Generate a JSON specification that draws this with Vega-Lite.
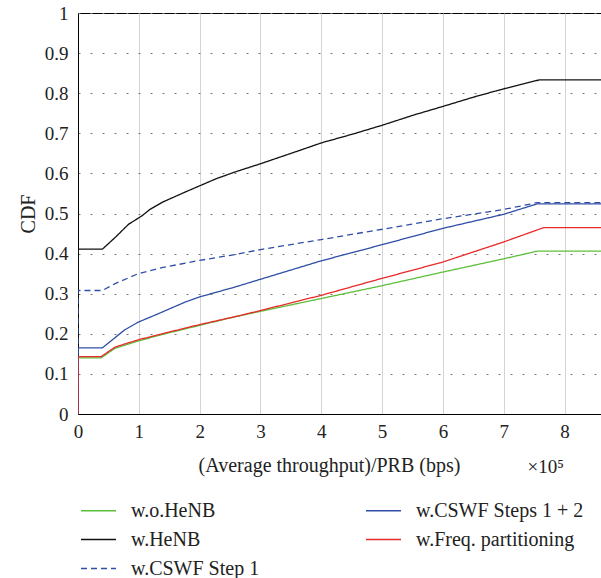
{
  "$schema": "https://vega.github.io/schema/vega-lite/v6.json",
  "autosize": {"type": "none"},
  "padding": {"left": 78, "top": 13, "right": 0, "bottom": 164},
  "width": 523,
  "height": 401,
  "config": {
    "view": {"stroke": "#000000", "strokeWidth": 1},
    "font": "Liberation Serif",
    "axis": {
      "labelFont": "Liberation Serif",
      "labelFontSize": 19,
      "labelColor": "#222222",
      "titleFont": "Liberation Serif",
      "titleFontSize": 20,
      "titleFontWeight": "normal",
      "titleColor": "#222222",
      "domainColor": "#000000",
      "tickColor": "#000000"
    },
    "legend": {
      "labelFont": "Liberation Serif",
      "labelFontSize": 20,
      "labelColor": "#222222",
      "labelLimit": 400
    }
  },
  "datasets": {
    "curves": [
      {"series": "w.o.HeNB", "i": 0, "x": 0, "y": 0},
      {"series": "w.o.HeNB", "i": 1, "x": 0, "y": 0.14},
      {"series": "w.o.HeNB", "i": 2, "x": 0.38, "y": 0.14},
      {"series": "w.o.HeNB", "i": 3, "x": 0.61, "y": 0.164},
      {"series": "w.o.HeNB", "i": 4, "x": 0.99, "y": 0.182},
      {"series": "w.o.HeNB", "i": 5, "x": 1.38, "y": 0.198},
      {"series": "w.o.HeNB", "i": 6, "x": 2.0, "y": 0.221},
      {"series": "w.o.HeNB", "i": 7, "x": 2.51, "y": 0.24},
      {"series": "w.o.HeNB", "i": 8, "x": 3.0, "y": 0.256},
      {"series": "w.o.HeNB", "i": 9, "x": 4.0, "y": 0.288},
      {"series": "w.o.HeNB", "i": 10, "x": 4.97, "y": 0.319},
      {"series": "w.o.HeNB", "i": 11, "x": 6.0, "y": 0.354},
      {"series": "w.o.HeNB", "i": 12, "x": 7.0, "y": 0.387},
      {"series": "w.o.HeNB", "i": 13, "x": 7.55, "y": 0.406},
      {"series": "w.o.HeNB", "i": 14, "x": 8.6, "y": 0.406},

      {"series": "w.HeNB", "i": 0, "x": 0, "y": 0},
      {"series": "w.HeNB", "i": 1, "x": 0, "y": 0.411},
      {"series": "w.HeNB", "i": 2, "x": 0.4, "y": 0.411},
      {"series": "w.HeNB", "i": 3, "x": 0.61, "y": 0.44},
      {"series": "w.HeNB", "i": 4, "x": 0.83, "y": 0.473},
      {"series": "w.HeNB", "i": 5, "x": 1.05, "y": 0.494},
      {"series": "w.HeNB", "i": 6, "x": 1.18, "y": 0.51},
      {"series": "w.HeNB", "i": 7, "x": 1.4, "y": 0.529},
      {"series": "w.HeNB", "i": 8, "x": 1.74, "y": 0.552},
      {"series": "w.HeNB", "i": 9, "x": 2.0, "y": 0.569},
      {"series": "w.HeNB", "i": 10, "x": 2.26, "y": 0.586},
      {"series": "w.HeNB", "i": 11, "x": 2.59, "y": 0.604},
      {"series": "w.HeNB", "i": 12, "x": 3.0, "y": 0.624},
      {"series": "w.HeNB", "i": 13, "x": 3.6, "y": 0.655},
      {"series": "w.HeNB", "i": 14, "x": 4.0, "y": 0.676},
      {"series": "w.HeNB", "i": 15, "x": 4.54, "y": 0.699},
      {"series": "w.HeNB", "i": 16, "x": 5.0, "y": 0.72},
      {"series": "w.HeNB", "i": 17, "x": 5.53, "y": 0.746},
      {"series": "w.HeNB", "i": 18, "x": 6.0, "y": 0.767},
      {"series": "w.HeNB", "i": 19, "x": 6.5, "y": 0.79},
      {"series": "w.HeNB", "i": 20, "x": 7.0, "y": 0.811},
      {"series": "w.HeNB", "i": 21, "x": 7.58, "y": 0.833},
      {"series": "w.HeNB", "i": 22, "x": 8.6, "y": 0.833},

      {"series": "w.CSWF Step 1", "i": 0, "x": 0, "y": 0},
      {"series": "w.CSWF Step 1", "i": 1, "x": 0, "y": 0.308},
      {"series": "w.CSWF Step 1", "i": 2, "x": 0.4, "y": 0.308},
      {"series": "w.CSWF Step 1", "i": 3, "x": 0.61, "y": 0.325},
      {"series": "w.CSWF Step 1", "i": 4, "x": 0.99, "y": 0.35},
      {"series": "w.CSWF Step 1", "i": 5, "x": 1.38, "y": 0.365},
      {"series": "w.CSWF Step 1", "i": 6, "x": 2.0, "y": 0.383},
      {"series": "w.CSWF Step 1", "i": 7, "x": 2.59, "y": 0.398},
      {"series": "w.CSWF Step 1", "i": 8, "x": 3.0, "y": 0.41},
      {"series": "w.CSWF Step 1", "i": 9, "x": 4.0, "y": 0.435},
      {"series": "w.CSWF Step 1", "i": 10, "x": 4.7, "y": 0.453},
      {"series": "w.CSWF Step 1", "i": 11, "x": 5.14, "y": 0.464},
      {"series": "w.CSWF Step 1", "i": 12, "x": 6.0, "y": 0.487},
      {"series": "w.CSWF Step 1", "i": 13, "x": 7.0, "y": 0.51},
      {"series": "w.CSWF Step 1", "i": 14, "x": 7.55, "y": 0.527},
      {"series": "w.CSWF Step 1", "i": 15, "x": 8.6, "y": 0.527},

      {"series": "w.CSWF Steps 1 + 2", "i": 0, "x": 0, "y": 0},
      {"series": "w.CSWF Steps 1 + 2", "i": 1, "x": 0, "y": 0.165},
      {"series": "w.CSWF Steps 1 + 2", "i": 2, "x": 0.4, "y": 0.165},
      {"series": "w.CSWF Steps 1 + 2", "i": 3, "x": 0.77, "y": 0.21},
      {"series": "w.CSWF Steps 1 + 2", "i": 4, "x": 0.99, "y": 0.229},
      {"series": "w.CSWF Steps 1 + 2", "i": 5, "x": 1.32, "y": 0.25},
      {"series": "w.CSWF Steps 1 + 2", "i": 6, "x": 1.76, "y": 0.279},
      {"series": "w.CSWF Steps 1 + 2", "i": 7, "x": 2.0, "y": 0.292},
      {"series": "w.CSWF Steps 1 + 2", "i": 8, "x": 2.59, "y": 0.317},
      {"series": "w.CSWF Steps 1 + 2", "i": 9, "x": 3.0, "y": 0.336},
      {"series": "w.CSWF Steps 1 + 2", "i": 10, "x": 4.0, "y": 0.382},
      {"series": "w.CSWF Steps 1 + 2", "i": 11, "x": 4.97, "y": 0.421},
      {"series": "w.CSWF Steps 1 + 2", "i": 12, "x": 6.0, "y": 0.463},
      {"series": "w.CSWF Steps 1 + 2", "i": 13, "x": 7.0, "y": 0.498},
      {"series": "w.CSWF Steps 1 + 2", "i": 14, "x": 7.55, "y": 0.524},
      {"series": "w.CSWF Steps 1 + 2", "i": 15, "x": 8.6, "y": 0.524},

      {"series": "w.Freq. partitioning", "i": 0, "x": 0, "y": 0},
      {"series": "w.Freq. partitioning", "i": 1, "x": 0, "y": 0.143},
      {"series": "w.Freq. partitioning", "i": 2, "x": 0.38, "y": 0.143},
      {"series": "w.Freq. partitioning", "i": 3, "x": 0.61, "y": 0.167},
      {"series": "w.Freq. partitioning", "i": 4, "x": 0.99, "y": 0.185},
      {"series": "w.Freq. partitioning", "i": 5, "x": 1.38, "y": 0.2},
      {"series": "w.Freq. partitioning", "i": 6, "x": 2.0, "y": 0.223},
      {"series": "w.Freq. partitioning", "i": 7, "x": 2.59, "y": 0.243},
      {"series": "w.Freq. partitioning", "i": 8, "x": 3.0, "y": 0.258},
      {"series": "w.Freq. partitioning", "i": 9, "x": 4.0, "y": 0.296},
      {"series": "w.Freq. partitioning", "i": 10, "x": 4.97, "y": 0.337},
      {"series": "w.Freq. partitioning", "i": 11, "x": 6.0, "y": 0.379},
      {"series": "w.Freq. partitioning", "i": 12, "x": 7.0, "y": 0.429},
      {"series": "w.Freq. partitioning", "i": 13, "x": 7.66, "y": 0.465},
      {"series": "w.Freq. partitioning", "i": 14, "x": 8.6, "y": 0.465}
    ]
  },
  "data": {"name": "curves"},
  "layer": [
    {
      "mark": {"type": "line", "strokeWidth": 1.3, "clip": true},
      "encoding": {
        "x": {
          "field": "x", "type": "quantitative",
          "scale": {"domain": [0, 8.6], "nice": false, "zero": false},
          "axis": {
            "values": [0, 1, 2, 3, 4, 5, 6, 7, 8],
            "format": "~g",
            "title": "(Average throughput)/PRB (bps)",
            "titleX": 251, "titleY": 51, "titleBaseline": "middle", "titleAnchor": "middle", "titleAlign": "center",
            "ticks": false, "labelPadding": 8, "labelFlush": false,
            "grid": true, "gridColor": "#d4d4d4", "gridWidth": 1, "gridOpacity": 1
          }
        },
        "y": {
          "field": "y", "type": "quantitative",
          "scale": {"domain": [0, 1], "nice": false},
          "axis": {
            "values": [0, 0.1, 0.2, 0.3, 0.4, 0.5, 0.6, 0.7, 0.8, 0.9, 1],
            "format": "~g",
            "title": "CDF",
            "titlePadding": 6,
            "ticks": false, "labelPadding": 10, "labelFlush": false,
            "grid": true, "gridColor": "#777777", "gridDash": [2, 10], "gridWidth": 1.1, "gridOpacity": 1
          }
        },
        "color": {
          "field": "series", "type": "nominal",
          "scale": {
            "domain": ["w.o.HeNB", "w.HeNB", "w.CSWF Step 1", "w.CSWF Steps 1 + 2", "w.Freq. partitioning"],
            "range": ["#5cbf3a", "#111111", "#2f4ea6", "#2f4ea6", "#e82a2a"]
          },
          "legend": {
            "title": null,
            "orient": "none",
            "legendX": 2,
            "legendY": 479,
            "columns": 2,
            "columnPadding": 103,
            "rowPadding": -2,
            "symbolType": "stroke",
            "symbolSize": 1225,
            "symbolStrokeWidth": 1.3,
            "labelOffset": 14,
            "padding": 0
          }
        },
        "strokeDash": {
          "field": "series", "type": "nominal",
          "scale": {
            "domain": ["w.o.HeNB", "w.HeNB", "w.CSWF Step 1", "w.CSWF Steps 1 + 2", "w.Freq. partitioning"],
            "range": [[1, 0], [1, 0], [6, 4], [1, 0], [1, 0]]
          },
          "legend": {
            "title": null,
            "orient": "none",
            "legendX": 2,
            "legendY": 479,
            "columns": 2,
            "columnPadding": 103,
            "rowPadding": -2,
            "symbolType": "stroke",
            "symbolSize": 1225,
            "symbolStrokeWidth": 1.3,
            "labelOffset": 14,
            "padding": 0
          }
        },
        "order": {"field": "i", "type": "quantitative"}
      }
    },
    {
      "data": {"values": [{"label": "×10⁵"}]},
      "mark": {"type": "text", "font": "Liberation Serif", "fontSize": 19, "color": "#222222", "align": "center", "baseline": "middle"},
      "encoding": {
        "x": {"datum": 7.69, "type": "quantitative"},
        "y": {"datum": -0.132, "type": "quantitative"},
        "text": {"field": "label"}
      }
    }
  ]
}
